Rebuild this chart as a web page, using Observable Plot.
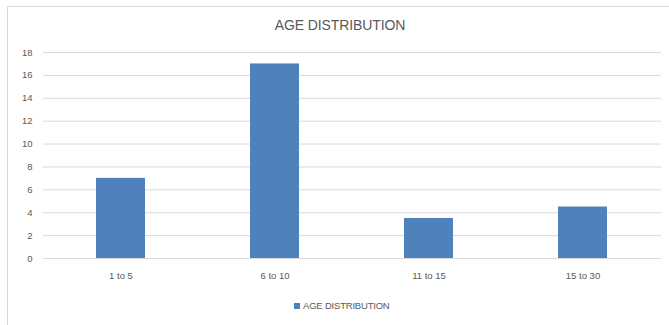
<!DOCTYPE html>
<html>
<head>
<meta charset="utf-8">
<script src="https://cdn.jsdelivr.net/npm/d3@7"></script>
<script src="https://cdn.jsdelivr.net/npm/@observablehq/plot@0.6"></script>
<style>
  html, body { margin: 0; padding: 0; background: #fff; }
  #chart {
    position: relative; width: 669px; height: 325px; overflow: hidden;
    font-family: "Liberation Sans", Arial, sans-serif; color: #595959;
  }
  #frame {
    position: absolute; left: 7px; top: 6px; right: -2px; bottom: -2px;
    border-left: 1px solid #d9d9d9; border-top: 1px solid #d9d9d9;
  }
  #title {
    position: absolute; top: 17px; left: 0; width: 680px; text-align: center;
    font-size: 14px; letter-spacing: -0.1px;
  }
  #plot { position: absolute; left: 0; top: 40px; }
  #legend {
    position: absolute; top: 300px; left: 294px; font-size: 9.5px;
    display: flex; align-items: center; letter-spacing: -0.2px;
  }
  #legend .sw { width: 6px; height: 6px; background: #4f81bd; margin-right: 3px; }
</style>
</head>
<body>
<div id="chart">
  <div id="frame"></div>
  <div id="title">AGE DISTRIBUTION</div>
  <div id="plot"></div>
  <div id="legend"><span class="sw"></span><span>AGE DISTRIBUTION</span></div>
</div>
<script>
// Age groups and how many people fall in each
const ageGroups = ["1 to 5", "6 to 10", "11 to 15", "15 to 30"];
const counts = [7, 17, 3.5, 4.5];
const yTicks = [0, 2, 4, 6, 8, 10, 12, 14, 16, 18];

const rows = ageGroups.map((g, i) => ({group: g, count: counts[i]}));

const chart = Plot.plot({
  width: 669,
  height: 240,
  marginLeft: 43,
  marginRight: 8,
  marginTop: 12,
  marginBottom: 22,
  style: {fontFamily: "Liberation Sans, Arial, sans-serif", fontSize: "9.5px", color: "#595959", background: "transparent"},
  x: {domain: ageGroups, paddingInner: 0.68, paddingOuter: 0.34, label: null},
  y: {domain: [0, 18], ticks: yTicks, label: null},
  marks: [
    Plot.gridY(yTicks, {stroke: "#d9d9d9", strokeOpacity: 1}),
    Plot.barY(rows, {x: "group", y: "count", fill: "#4f81bd"}),
    Plot.axisX({tickSize: 0, tickPadding: 14, label: null}),
    Plot.axisY(yTicks, {tickSize: 0, tickPadding: 11, label: null})
  ]
});
document.getElementById("plot").appendChild(chart);
</script>
</body>
</html>
